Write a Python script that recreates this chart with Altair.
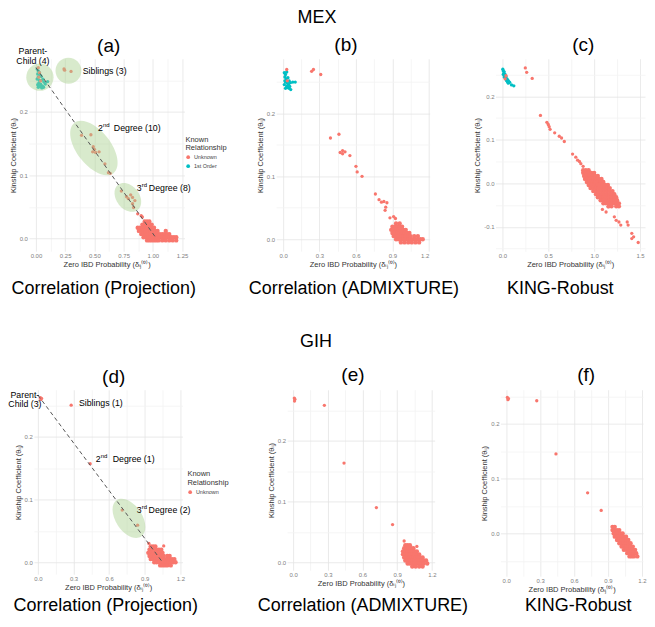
import altair as alt
import pandas as pd

FONT = "Liberation Sans"
RED = "#F8766D"
TEAL = "#00BFC4"
GREEN = "#A9D18E"
XT = "Zero IBD Probability (δᵢⱼ⁽⁰⁾)"
YT = "Kinship Coefficient (θᵢⱼ)"

# ------------------------- data -------------------------
# (a) MEX, Correlation (Projection)
A_FO_X = [0.010, 0.020, 0.030, 0.015, 0.035, 0.020, 0.045, 0.010, 0.030, 0.050, 0.060, 0.025,
          0.040, 0.070, 0.015, 0.035, 0.055, 0.080, 0.050, 0.020, 0.100, 0.065, 0.030]
A_FO_Y = [0.268, 0.265, 0.262, 0.260, 0.258, 0.255, 0.256, 0.252, 0.250, 0.250, 0.252, 0.246,
          0.244, 0.247, 0.243, 0.240, 0.241, 0.244, 0.238, 0.239, 0.248, 0.239, 0.241]
A_UNK_X = [0.020, 0.030, 0.025, 0.040, 0.240, 0.245, 0.300,
           0.390, 0.470, 0.490, 0.500, 0.485, 0.510, 0.540, 0.590, 0.620, 0.635,
           0.730, 0.775, 0.790, 0.826, 0.846, 0.826, 0.835, 0.810,
           0.870, 0.900, 0.910]
A_UNK_Y = [0.270, 0.262, 0.255, 0.249, 0.268, 0.266, 0.264,
           0.163, 0.164, 0.145, 0.141, 0.137, 0.136, 0.137, 0.118, 0.104, 0.103,
           0.075, 0.066, 0.063, 0.065, 0.060, 0.055, 0.049, 0.069,
           0.039, 0.036, 0.034]
A_BLOB = [
    (0.027, [0.93, 0.95, 0.97]),
    (0.022, [0.91, 0.93, 0.95, 0.97, 0.99]),
    (0.017, [0.87, 0.89, 0.91, 0.93, 0.95, 0.97, 0.99, 1.01]),
    (0.012, [0.88, 0.90, 0.92, 0.94, 0.96, 0.98, 1.00, 1.02, 1.04, 1.11]),
    (0.007, [0.90, 0.92, 0.94, 0.96, 0.98, 1.00, 1.02, 1.04, 1.06, 1.08, 1.10, 1.12, 1.14]),
    (0.002, [0.92, 0.94, 0.96, 0.98, 1.00, 1.02, 1.04, 1.06, 1.08, 1.10, 1.12, 1.14, 1.16, 1.18, 1.20]),
    (-0.003, [0.95, 0.97, 0.99, 1.01, 1.03, 1.05, 1.08, 1.11, 1.14, 1.17, 1.20]),
]

# (b) MEX, Correlation (ADMIXTURE)
B_FO_X = [0.010, 0.020, 0.030, 0.015, 0.025, 0.040, 0.020, 0.035, 0.050, 0.010, 0.030, 0.045,
          0.060, 0.080, 0.100, 0.020, 0.040, 0.055, 0.030, 0.063, 0.015, 0.050]
B_FO_Y = [0.265, 0.262, 0.266, 0.258, 0.255, 0.257, 0.250, 0.249, 0.252, 0.246, 0.244, 0.246,
          0.249, 0.250, 0.250, 0.240, 0.241, 0.243, 0.242, 0.238, 0.252, 0.240]
B_UNK_X = [0.030, 0.035, 0.235, 0.250, 0.310, 0.390, 0.460, 0.470, 0.490, 0.510, 0.490, 0.550,
           0.600, 0.610, 0.650, 0.760, 0.790, 0.810, 0.830, 0.855, 0.845, 0.840, 0.880, 0.910, 0.925]
B_UNK_Y = [0.270, 0.252, 0.267, 0.270, 0.262, 0.161, 0.167, 0.138, 0.141, 0.139, 0.136, 0.133,
           0.116, 0.107, 0.100, 0.072, 0.063, 0.059, 0.060, 0.058, 0.051, 0.046, 0.034, 0.036, 0.033]
B_BLOB = [
    (0.025, [0.93, 0.96]),
    (0.020, [0.90, 0.92, 0.94, 0.96, 0.98]),
    (0.015, [0.89, 0.91, 0.93, 0.95, 0.97, 0.99, 1.01]),
    (0.010, [0.90, 0.92, 0.94, 0.96, 0.98, 1.00, 1.02, 1.04]),
    (0.005, [0.91, 0.93, 0.95, 0.97, 0.99, 1.01, 1.03, 1.05, 1.08, 1.11]),
    (0.000, [0.93, 0.95, 0.97, 0.99, 1.01, 1.03, 1.05, 1.07, 1.09, 1.11, 1.13, 1.15]),
    (-0.005, [0.97, 1.00, 1.03, 1.06, 1.09, 1.12]),
]

# (c) MEX, KING-Robust
C_FO_X = [0.005, 0.010, 0.020, 0.015, 0.030, 0.025, 0.040, 0.035, 0.050, 0.045, 0.060, 0.055,
          0.070, 0.065, 0.080, 0.100, 0.020, 0.010, 0.125]
C_FO_Y = [0.262, 0.258, 0.256, 0.252, 0.250, 0.246, 0.245, 0.240, 0.240, 0.236, 0.237, 0.233,
          0.234, 0.230, 0.232, 0.226, 0.244, 0.250, 0.224]
C_UNK_X = [0.040, 0.030, 0.250, 0.265, 0.325, 0.415, 0.485, 0.500, 0.510, 0.520, 0.570, 0.620,
           0.645, 0.675, 0.765, 0.800, 0.820, 0.840, 0.855, 0.880,
           1.09, 1.15, 1.13, 1.22, 1.24, 1.27, 1.29, 1.36, 1.37, 1.41, 1.43, 1.41, 1.48]
C_UNK_Y = [0.247, 0.240, 0.265, 0.255, 0.241, 0.156, 0.140, 0.135, 0.130, 0.124, 0.116, 0.108,
           0.104, 0.096, 0.067, 0.060, 0.053, 0.050, 0.045, 0.039,
           -0.060, -0.054, -0.066, -0.077, -0.085, -0.089, -0.096, -0.089, -0.096, -0.115, -0.123,
           -0.127, -0.136]
C_BLOB = [
    (0.030, [0.88, 0.91, 0.94]),
    (0.024, [0.88, 0.91, 0.94, 0.97, 1.00]),
    (0.017, [0.89, 0.92, 0.95, 0.98, 1.01, 1.04]),
    (0.010, [0.90, 0.93, 0.96, 0.99, 1.02, 1.05, 1.08]),
    (0.003, [0.92, 0.95, 0.98, 1.01, 1.04, 1.07, 1.10]),
    (-0.004, [0.94, 0.97, 1.00, 1.03, 1.06, 1.09, 1.12, 1.15]),
    (-0.011, [0.96, 0.99, 1.02, 1.05, 1.08, 1.11, 1.14, 1.17]),
    (-0.018, [0.99, 1.02, 1.05, 1.08, 1.11, 1.14, 1.17, 1.20]),
    (-0.025, [1.02, 1.05, 1.08, 1.11, 1.14, 1.17, 1.20, 1.22]),
    (-0.032, [1.04, 1.07, 1.10, 1.13, 1.16, 1.19, 1.22, 1.24]),
    (-0.039, [1.07, 1.10, 1.13, 1.16, 1.19, 1.22, 1.25]),
    (-0.046, [1.10, 1.13, 1.16, 1.19, 1.22, 1.25, 1.27]),
    (-0.053, [1.16, 1.19, 1.24, 1.27]),
]

# (d) GIH, Correlation (Projection)
D_UNK_X = [0.020, 0.025, 0.030, 0.280, 0.440, 0.710, 0.840, 0.935, 1.060]
D_UNK_Y = [0.262, 0.259, 0.261, 0.250, 0.157, 0.083, 0.059, 0.030, 0.026]
D_BLOB = [
    (0.025, [0.95, 0.97, 0.99]),
    (0.020, [0.94, 0.96, 0.98, 1.00, 1.02, 1.04]),
    (0.015, [0.93, 0.95, 0.97, 0.99, 1.01, 1.03, 1.05]),
    (0.010, [0.94, 0.96, 0.98, 1.00, 1.02, 1.04, 1.06, 1.09, 1.11]),
    (0.005, [0.95, 0.97, 0.99, 1.01, 1.03, 1.05, 1.07, 1.09, 1.11, 1.13, 1.15]),
    (0.000, [0.98, 1.00, 1.02, 1.04, 1.06, 1.08, 1.10, 1.12, 1.14, 1.16]),
    (-0.005, [1.03, 1.05, 1.07, 1.09, 1.12]),
]

# (e) GIH, Correlation (ADMIXTURE)
E_UNK_X = [0.010, 0.012, 0.015, 0.270, 0.440, 0.720, 0.860, 0.960, 1.070]
E_UNK_Y = [0.270, 0.265, 0.268, 0.258, 0.163, 0.090, 0.062, 0.035, 0.026]
E_BLOB = [
    (0.028, [0.97, 0.99, 1.01]),
    (0.023, [0.96, 0.98, 1.00, 1.02, 1.04]),
    (0.018, [0.95, 0.97, 0.99, 1.01, 1.03, 1.05, 1.07]),
    (0.013, [0.95, 0.97, 0.99, 1.01, 1.03, 1.05, 1.07, 1.09]),
    (0.008, [0.96, 0.98, 1.00, 1.02, 1.04, 1.06, 1.08, 1.10, 1.12]),
    (0.003, [0.97, 0.99, 1.01, 1.03, 1.05, 1.07, 1.09, 1.11, 1.13, 1.15]),
    (-0.002, [0.99, 1.01, 1.03, 1.05, 1.07, 1.09, 1.11, 1.13, 1.16]),
    (-0.007, [1.03, 1.06, 1.09, 1.12]),
]

# (f) GIH, KING-Robust
F_UNK_X = [0.010, 0.015, 0.020, 0.270, 0.440, 0.720, 0.840]
F_UNK_Y = [0.248, 0.244, 0.246, 0.242, 0.145, 0.074, 0.042]
F_BLOB = [
    (0.012, [0.94, 0.96]),
    (0.006, [0.94, 0.96, 0.98, 1.00]),
    (0.000, [0.95, 0.97, 0.99, 1.01, 1.03]),
    (-0.006, [0.96, 0.98, 1.00, 1.02, 1.04, 1.06]),
    (-0.012, [0.98, 1.00, 1.02, 1.04, 1.06, 1.08]),
    (-0.018, [1.00, 1.02, 1.04, 1.06, 1.08, 1.10]),
    (-0.024, [1.02, 1.04, 1.06, 1.08, 1.10, 1.12]),
    (-0.030, [1.04, 1.06, 1.08, 1.10, 1.12, 1.14]),
    (-0.036, [1.07, 1.09, 1.11, 1.13, 1.15]),
    (-0.042, [1.09, 1.11, 1.13, 1.16]),
]

# dashed reference lines (end points)
A_LINE_X, A_LINE_Y = [0.0, 1.03], [0.27, 0.0]
D_LINE_X, D_LINE_Y = [0.0, 1.05], [0.266, 0.0]

# ------------------------- panel settings -------------------------
X3 = [0.0, 0.3, 0.6, 0.9, 1.2]
X3m = [0.15, 0.45, 0.75, 1.05]
Y1 = [0.0, 0.1, 0.2]
Y1m = [0.05, 0.15, 0.25]
CFG = {
    "a": dict(W=156, H=193, xdom=[-0.06, 1.27], ydom=[-0.02, 0.284],
              xmaj=[0.0, 0.25, 0.5, 0.75, 1.0, 1.25], xmin=[0.125, 0.375, 0.625, 0.875, 1.125],
              xfmt=".2f", ymaj=Y1, ymin=Y1m),
    "b": dict(W=154, H=193, xdom=[-0.057, 1.207], ydom=[-0.019, 0.287],
              xmaj=X3, xmin=X3m, xfmt=".1f", ymaj=Y1, ymin=Y1m),
    "c": dict(W=150, H=193, xdom=[-0.075, 1.554], ydom=[-0.156, 0.286],
              xmaj=[0.0, 0.5, 1.0, 1.5], xmin=[0.25, 0.75, 1.25], xfmt=".1f",
              ymaj=[-0.1, 0.0, 0.1, 0.2], ymin=[-0.15, -0.05, 0.05, 0.15, 0.25]),
    "d": dict(W=149, H=185, xdom=[-0.034, 1.218], ydom=[-0.019, 0.2746],
              xmaj=X3, xmin=X3m, xfmt=".1f", ymaj=Y1, ymin=Y1m),
    "e": dict(W=148, H=181, xdom=[-0.052, 1.224], ydom=[-0.013, 0.2836],
              xmaj=X3, xmin=X3m, xfmt=".1f", ymaj=Y1, ymin=Y1m),
    "f": dict(W=143, H=187, xdom=[-0.051, 1.21], ydom=[-0.078, 0.262],
              xmaj=X3, xmin=X3m, xfmt=".1f", ymaj=Y1, ymin=[-0.05] + Y1m),
}


def flatten(rows):
    xs, ys = [], []
    for yv, xl in rows:
        for xv in xl:
            xs.append(xv)
            ys.append(yv)
    return xs, ys


def pts_df(fo_x, fo_y, unk_x, unk_y):
    recs = []
    for x, y in zip(fo_x, fo_y):
        recs.append({"x": x, "y": y, "rel": "1st Order"})
    for x, y in zip(unk_x, unk_y):
        recs.append({"x": x, "y": y, "rel": "Unknown"})
    return pd.DataFrame(recs)


def blob_df(blob):
    bx, by = flatten(blob)
    return pd.DataFrame({"x": bx, "y": by, "rel": ["Unknown"] * len(bx)})


def js(vals):
    return "[" + ",".join(repr(float(v)) for v in vals) + "]"


def mk_axis(maj, mino, fmt, title):
    mj = js(maj)
    return alt.Axis(
        values=sorted(maj + mino), title=title,
        labelExpr=f"indexof({mj}, datum.value) >= 0 ? replace(format(datum.value, '{fmt}'), '\u2212', '-') : ''",
        gridColor={"condition": {"test": f"indexof({mj}, datum.value) < 0", "value": "#f3f3f3"},
                   "value": "#e5e5e5"},
    )


def encs(c):
    xe = alt.X("x:Q", scale=alt.Scale(domain=c["xdom"], nice=False, zero=False),
               axis=mk_axis(c["xmaj"], c["xmin"], c["xfmt"], XT))
    ye = alt.Y("y:Q", scale=alt.Scale(domain=c["ydom"], nice=False, zero=False),
               axis=mk_axis(c["ymaj"], c["ymin"], ".1f", YT))
    return xe, ye


def ptext(text, x, y, size, **kw):
    return alt.Chart(pd.DataFrame({"t": [text]})).mark_text(
        font=FONT, fontSize=size, color="black", baseline="middle", align="center", **kw
    ).encode(text="t:N", x=alt.value(x), y=alt.value(y))


LS = 8.8  # annotation font size


def dlabel(xe, ye, text, x, y, size=LS, dx=0, dy=0, align="left"):
    return alt.Chart(pd.DataFrame({"x": [x], "y": [y], "t": [text]})).mark_text(
        font=FONT, fontSize=size, color="black", baseline="middle", align=align, dx=dx, dy=dy
    ).encode(x=xe, y=ye, text="t:N")


def ellipse(xe, ye, x, y, semi, ratio, angle):
    path = f"M-1,0A1,{ratio},0,1,1,1,0A1,{ratio},0,1,1,-1,0Z"
    return alt.Chart(pd.DataFrame({"x": [x], "y": [y]})).mark_point(
        shape=path, size=(2 * semi) ** 2, angle=angle, filled=True, fill=GREEN,
        opacity=0.45, strokeWidth=0
    ).encode(x=xe, y=ye)


def dline(xe, ye, xs, ys):
    return alt.Chart(pd.DataFrame({"x": xs, "y": ys})).mark_line(
        color="#555555", strokeWidth=1, strokeDash=[4, 3]
    ).encode(x=xe, y=ye)


def legend_obj(lx, ly):
    return alt.Legend(title=["Known", "Relationship"], orient="none", legendX=lx, legendY=ly,
                      titleFont=FONT, titleFontSize=7.5, titleFontWeight="normal",
                      titleColor="#333333", titleLineHeight=8.5, titlePadding=3,
                      labelFont=FONT, labelFontSize=5.5, labelColor="#444444",
                      symbolType="circle", symbolSize=14, symbolStrokeWidth=0,
                      rowPadding=2, labelOffset=3)


def points(blob, df, xe, ye, dom, rng, legend):
    col = alt.Color("rel:N", scale=alt.Scale(domain=dom, range=rng), legend=legend)
    return [
        alt.Chart(blob_df(blob)).mark_circle(size=19, opacity=1).encode(x=xe, y=ye, color=col),
        alt.Chart(df).mark_circle(size=11, opacity=1).encode(x=xe, y=ye, color=col),
    ]


D2 = ["Unknown", "1st Order"]
R2 = [RED, TEAL]
CAP1 = 231   # caption offsets below plot top
CAP2 = 217

# ---- (a)
c = CFG["a"]
xe, ye = encs(c)
panel_a = alt.layer(
    *points(A_BLOB, pts_df(A_FO_X, A_FO_Y, A_UNK_X, A_UNK_Y), xe, ye, D2, R2, legend_obj(157, 77)),
    ellipse(xe, ye, 0.034, 0.255, 13.7, 1, 0),
    ellipse(xe, ye, 0.278, 0.265, 13.0, 1, 0),
    ellipse(xe, ye, 0.496, 0.143, 32, 0.53, 52),
    ellipse(xe, ye, 0.786, 0.065, 16, 0.72, 52),
    dline(xe, ye, A_LINE_X, A_LINE_Y),
    dlabel(xe, ye, "Parent-", -0.026, 0.296, align="center"),
    dlabel(xe, ye, "Child (4)", -0.026, 0.281, align="center"),
    dlabel(xe, ye, "Siblings (3)", 0.40, 0.265),
    dlabel(xe, ye, "2", 0.53, 0.175),
    dlabel(xe, ye, "nd", 0.53, 0.175, size=6, dx=5, dy=-3),
    dlabel(xe, ye, "Degree (10)", 0.53, 0.175, dx=16),
    dlabel(xe, ye, "3", 0.863, 0.08),
    dlabel(xe, ye, "rd", 0.863, 0.08, size=6, dx=5, dy=-3),
    dlabel(xe, ye, "Degree (8)", 0.863, 0.08, dx=12),
    ptext("(a)", 80, -13, 19),
    ptext("Correlation (Projection)", 75, CAP1, 18),
).properties(width=c["W"], height=c["H"])

# ---- (b)
c = CFG["b"]
xe, ye = encs(c)
panel_b = alt.layer(
    *points(B_BLOB, pts_df(B_FO_X, B_FO_Y, B_UNK_X, B_UNK_Y), xe, ye, D2, R2, None),
    ptext("(b)", 70, -14, 19),
    ptext("MEX", 41, -41, 18),
    ptext("Correlation (ADMIXTURE)", 78, CAP1, 18),
).properties(width=c["W"], height=c["H"])

# ---- (c)
c = CFG["c"]
xe, ye = encs(c)
panel_c = alt.layer(
    *points(C_BLOB, pts_df(C_FO_X, C_FO_Y, C_UNK_X, C_UNK_Y), xe, ye, D2, R2, None),
    ptext("(c)", 88, -14, 19),
    ptext("KING-Robust", 65, CAP1, 18),
).properties(width=c["W"], height=c["H"])

# ---- (d)
c = CFG["d"]
xe, ye = encs(c)
panel_d = alt.layer(
    *points(D_BLOB, pts_df([], [], D_UNK_X, D_UNK_Y), xe, ye, ["Unknown"], [RED], legend_obj(154, 81)),
    ellipse(xe, ye, 0.767, 0.070, 22, 0.6, 56),
    dline(xe, ye, D_LINE_X, D_LINE_Y),
    dlabel(xe, ye, "Parent-", -0.11, 0.267, align="center"),
    dlabel(xe, ye, "Child (3)", -0.11, 0.252, align="center"),
    dlabel(xe, ye, "Siblings (1)", 0.345, 0.254),
    dlabel(xe, ye, "2", 0.487, 0.165),
    dlabel(xe, ye, "nd", 0.487, 0.165, size=6, dx=5, dy=-3),
    dlabel(xe, ye, "Degree (1)", 0.487, 0.165, dx=17),
    dlabel(xe, ye, "3", 0.832, 0.083),
    dlabel(xe, ye, "rd", 0.832, 0.083, size=6, dx=5, dy=-3),
    dlabel(xe, ye, "Degree (2)", 0.832, 0.083, dx=12),
    ptext("(d)", 80, -13, 19),
    ptext("Correlation (Projection)", 72, CAP2, 18),
).properties(width=c["W"], height=c["H"])

# ---- (e)
c = CFG["e"]
xe, ye = encs(c)
panel_e = alt.layer(
    *points(E_BLOB, pts_df([], [], E_UNK_X, E_UNK_Y), xe, ye, ["Unknown"], [RED], None),
    ptext("(e)", 66, -15, 19),
    ptext("GIH", 29, -48, 18),
    ptext("Correlation (ADMIXTURE)", 76, CAP2, 18),
).properties(width=c["W"], height=c["H"])

# ---- (f)
c = CFG["f"]
xe, ye = encs(c)
panel_f = alt.layer(
    *points(F_BLOB, pts_df([], [], F_UNK_X, F_UNK_Y), xe, ye, ["Unknown"], [RED], None),
    ptext("(f)", 86, -15, 19),
    ptext("KING-Robust", 78, CAP2, 18),
).properties(width=c["W"], height=c["H"])


def spacer(w):
    return alt.Chart(pd.DataFrame({"a": [0]})).mark_point(opacity=0).encode(
        x=alt.value(0), y=alt.value(0)).properties(width=w, height=1)


row1 = alt.hconcat(panel_a, spacer(92), panel_b, spacer(66), panel_c,
                   spacing=0, bounds="flush").resolve_scale(color="independent")
row2 = alt.hconcat(spacer(5), panel_d, spacer(105), panel_e, spacer(66), panel_f,
                   spacing=0, bounds="flush").resolve_scale(color="independent")

chart = alt.vconcat(row1, row2, spacing=332, bounds="flush").resolve_scale(
    color="independent"
).properties(
    padding=0
).configure_view(stroke=None).configure_axis(
    labelFont=FONT, labelFontSize=6, labelColor="#7f7f7f",
    titleFont=FONT, titleFontSize=7.5, titleColor="#333333", titleFontWeight="normal",
    ticks=False, domain=False, labelPadding=1.5, titlePadding=2, gridWidth=0.8,
)

chart.save("out.html", embed_options={"renderer": "svg", "actions": False})
